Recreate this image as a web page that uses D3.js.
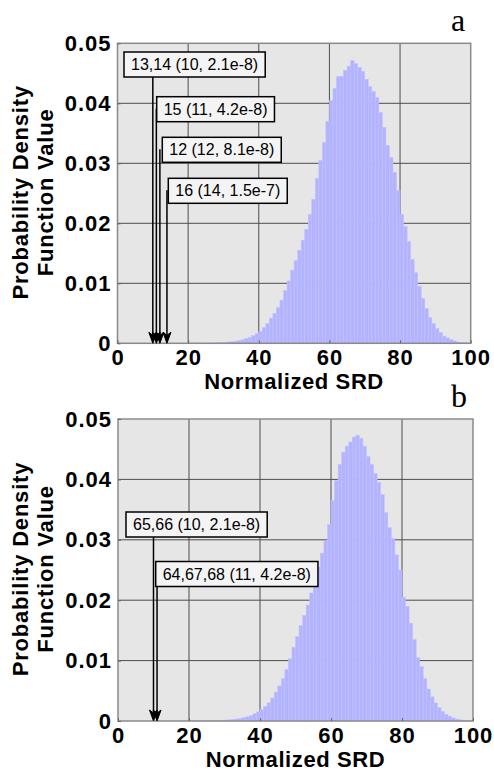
<!DOCTYPE html>
<html>
<head>
<meta charset="utf-8">
<script src="https://cdn.jsdelivr.net/npm/d3@7/dist/d3.min.js"></script>
<style>
body { margin: 0; background: #fff; }
svg { display: block; font-family: "Liberation Sans", Arial, Helvetica, sans-serif; }
</style>
</head>
<body>
<div id="chart"></div>
<script>
// Histogram: bins of width 1 starting at binStart
const binStart = 20;

const pdfA = [
    0.00001, 0.00001, 0.00002, 0.00002, 0.00003, 0.00004, 0.00005, 0.00007, 0.0001, 0.00013,
    0.00017, 0.00022, 0.00028, 0.00036, 0.00046, 0.0006, 0.0008, 0.001, 0.0013, 0.0016,
    0.002, 0.0026, 0.0033, 0.0042, 0.005, 0.006, 0.0072, 0.0088, 0.0104, 0.0122,
    0.0138, 0.0155, 0.0172, 0.019, 0.0215, 0.024, 0.0275, 0.0305, 0.0335, 0.037,
    0.0405, 0.0425, 0.0445, 0.0445, 0.0455, 0.0462, 0.0471, 0.0466, 0.046, 0.0453,
    0.044, 0.0428, 0.042, 0.041, 0.0385, 0.036, 0.033, 0.031, 0.0285, 0.0255,
    0.0215, 0.0195, 0.017, 0.014, 0.0118, 0.0095, 0.0075, 0.0058, 0.0043, 0.0033,
    0.0025, 0.0018, 0.0012, 0.0009, 0.0006, 0.0004, 0.0002, 0.00015, 0.0001, 0.00005
];

const pdfB = [
    0.00001, 0.00001, 0.00002, 0.00002, 0.00003, 0.00004, 0.00005, 0.00007, 0.0001, 0.00012,
    0.00016, 0.0002, 0.00026, 0.00034, 0.00044, 0.00056, 0.0007, 0.0009, 0.0012, 0.0015,
    0.0019, 0.0024, 0.003, 0.0038, 0.0048, 0.0058, 0.007, 0.0085, 0.0103, 0.0122,
    0.014, 0.0158, 0.0175, 0.0192, 0.0212, 0.0232, 0.0255, 0.0278, 0.0298, 0.0325,
    0.0365, 0.0398, 0.0425, 0.0445, 0.0455, 0.0462, 0.047, 0.0473, 0.0468, 0.0455,
    0.0438, 0.0425, 0.041, 0.0395, 0.0375, 0.0345, 0.032, 0.0302, 0.0275, 0.025,
    0.0205, 0.019, 0.0162, 0.0135, 0.0105, 0.009, 0.007, 0.0053, 0.004, 0.003,
    0.0022, 0.0016, 0.0011, 0.0008, 0.0005, 0.0003, 0.0002, 0.0001, 0.0001, 0.00005
];

const xTicks = [0, 20, 40, 60, 80, 100];
const yTicks = [0, 0.01, 0.02, 0.03, 0.04, 0.05];
const yTickLabels = ['0', '0.01', '0.02', '0.03', '0.04', '0.05'];

const notesA = ['13,14 (10, 2.1e-8)', '15 (11, 4.2e-8)', '12 (12, 8.1e-8)', '16 (14, 1.5e-7)'];
const arrowsA = [10, 11, 12, 14];
const notesB = ['65,66 (10, 2.1e-8)', '64,67,68 (11, 4.2e-8)'];
const arrowsB = [10, 11];

const xTitle = 'Normalized SRD';
const yTitle = ['Probability Density', 'Function Value'];

const W = 494, H = 772;
const svg = d3.select('#chart').append('svg')
    .attr('width', W)
    .attr('height', H);

const panels = [
    { tag: 'a', data: pdfA, notes: notesA, arrows: arrowsA,
      x0: 117.5, x1: 470.7, y0: 343.3, y1: 43.3,
      boxes: [[124, 52], [156.7, 96.7], [162.3, 137.3], [168.3, 178.3]] },
    { tag: 'b', data: pdfB, notes: notesB, arrows: arrowsB,
      x0: 118, x1: 473, y0: 721, y1: 419,
      boxes: [[126, 512], [155.7, 561.5]] }
];

panels.forEach(p => {
    const x = d3.scaleLinear().domain([0, 100]).range([p.x0, p.x1]);
    const y = d3.scaleLinear().domain([0, 0.05]).range([p.y0, p.y1]);
    const g = svg.append('g');

    // Fundo
    g.append('rect')
        .attr('x', p.x0).attr('y', p.y1)
        .attr('width', p.x1 - p.x0).attr('height', p.y0 - p.y1)
        .attr('fill', '#e6e6e6');

    // Grade
    g.append('g')
        .selectAll('line').data(xTicks.slice(1, -1)).enter().append('line')
        .attr('x1', d => x(d)).attr('x2', d => x(d))
        .attr('y1', p.y0).attr('y2', p.y1)
        .attr('stroke', '#4d4d4d').attr('stroke-width', 1);
    g.append('g')
        .selectAll('line').data(yTicks.slice(1, -1)).enter().append('line')
        .attr('x1', p.x0).attr('x2', p.x1)
        .attr('y1', d => y(d)).attr('y2', d => y(d))
        .attr('stroke', '#4d4d4d').attr('stroke-width', 1);

    // Barras
    g.append('g')
        .selectAll('rect').data(p.data).enter().append('rect')
        .attr('x', (d, i) => x(binStart + i))
        .attr('width', (d, i) => x(binStart + i + 1) - x(binStart + i))
        .attr('y', d => y(d))
        .attr('height', d => y(0) - y(d))
        .attr('fill', '#b3b3ff')
        .attr('stroke', '#c2c2ff')
        .attr('stroke-width', 0.5);

    // Moldura
    g.append('rect')
        .attr('x', p.x0).attr('y', p.y1)
        .attr('width', p.x1 - p.x0).attr('height', p.y0 - p.y1)
        .attr('fill', 'none')
        .attr('stroke', '#8a8a8a').attr('stroke-width', 1.5);

    // Eixos (rótulos)
    const xAxis = g.append('g')
        .attr('transform', `translate(0,${p.y0})`)
        .call(d3.axisBottom(x).tickValues(xTicks).tickSize(-3).tickPadding(6).tickFormat(d3.format('d')));
    xAxis.select('.domain').remove();
    xAxis.selectAll('line').attr('stroke', '#666');
    xAxis.selectAll('text')
        .attr('fill', '#000')
        .style('font-size', '22px')
        .style('letter-spacing', '1px')
        .style('font-weight', 'bold');

    const yAxis = g.append('g')
        .attr('transform', `translate(${p.x0},0)`)
        .call(d3.axisLeft(y).tickValues(yTicks).tickSize(-3).tickPadding(6)
            .tickFormat((d, i) => yTickLabels[i]));
    yAxis.select('.domain').remove();
    yAxis.selectAll('line').attr('stroke', '#666');
    yAxis.selectAll('text')
        .attr('fill', '#000')
        .style('font-size', '22px')
        .style('letter-spacing', '1px')
        .style('font-weight', 'bold');

    // Título dos eixos
    g.append('text')
        .attr('x', (p.x0 + p.x1) / 2)
        .attr('y', p.y0 + 46)
        .attr('text-anchor', 'middle')
        .style('font-size', '22px')
        .style('letter-spacing', '0.6px')
        .style('font-weight', 'bold')
        .text(xTitle);

    const yt = g.append('text')
        .attr('transform', `translate(0,${(p.y0 + p.y1) / 2 - 1}) rotate(-90)`)
        .attr('text-anchor', 'middle')
        .style('font-size', '22px')
        .style('letter-spacing', '0.8px')
        .style('font-weight', 'bold');
    yTitle.forEach((t, i) => {
        yt.append('tspan').attr('x', 0).attr('y', 28 + i * 25).text(t);
    });

    // Letra do painel
    g.append('text')
        .attr('x', 451)
        .attr('y', p.y1 - 12)
        .style('font-family', '"Liberation Serif", "Times New Roman", serif')
        .style('font-size', '32px')
        .text(p.tag);

    // Anotações com setas
    p.arrows.forEach((v, i) => {
        const ax = x(v);
        const box = p.boxes[i];
        g.append('line')
            .attr('x1', ax).attr('x2', ax)
            .attr('y1', box[1] + 12).attr('y2', p.y0 - 2)
            .attr('stroke', '#000').attr('stroke-width', 1.5);
        g.append('path')
            .attr('d', `M${ax},${p.y0} L${ax - 4},${p.y0 - 11} L${ax},${p.y0 - 8} L${ax + 4},${p.y0 - 11} Z`)
            .attr('fill', '#000')
            .attr('stroke', '#000')
            .attr('stroke-width', 1);
    });
    p.notes.forEach((t, i) => {
        const box = p.boxes[i];
        const lg = g.append('g').attr('transform', `translate(${box[0]},${box[1]})`);
        const r = lg.append('rect')
            .attr('height', 25)
            .attr('fill', '#f4f4f4')
            .attr('stroke', '#000')
            .attr('stroke-width', 1.5);
        const tx = lg.append('text')
            .attr('x', 7)
            .attr('y', 18)
            .style('font-size', '16px')
            .text(t);
        r.attr('width', tx.node().getComputedTextLength() + 14);
    });
});
</script>
</body>
</html>
